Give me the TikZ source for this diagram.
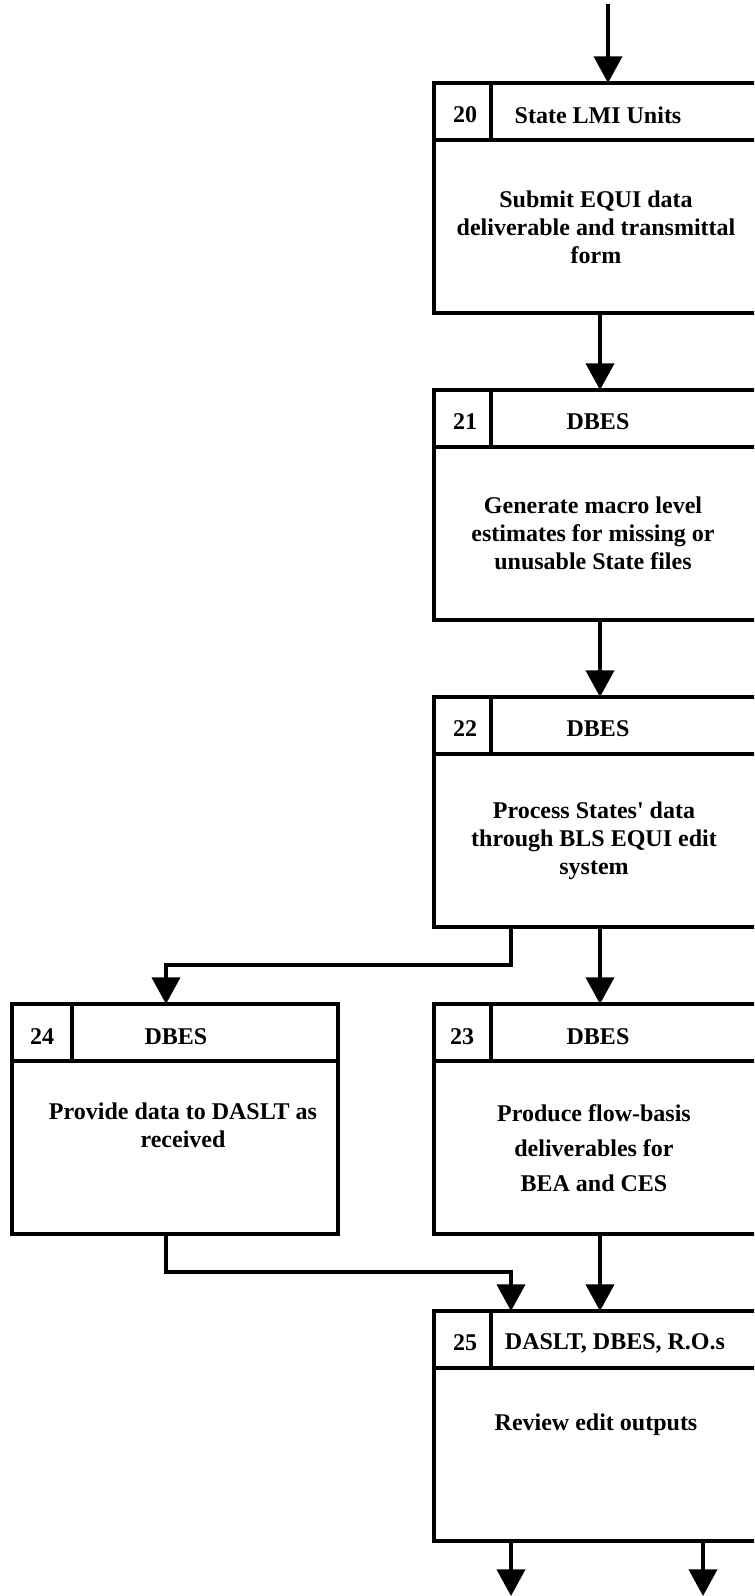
\documentclass[tikz,border=0pt]{standalone}
\usepackage{fontspec}
\setmainfont{Liberation Serif}[Ligatures=TeXOff]
\usetikzlibrary{arrows.meta}

\begin{document}
\begin{tikzpicture}[x=0.75pt,y=-0.75pt,
  stepbox/.style={draw=black,line width=3pt,rectangle,outer sep=0pt,inner sep=0pt,minimum width=249pt,minimum height=172.5pt},
  wide/.style={minimum width=244.5pt},
  rule/.style={draw=black,line width=3pt},
  label/.style={font=\bfseries\fontsize{18}{21}\selectfont,align=center,inner sep=0pt},
  flow/.style={draw=black,line width=3pt,-{Triangle[width=21pt,length=20pt]}}]

\useasboundingbox (0,0) rectangle (754,1596);
\clip (0,0) rectangle (754,1596);

\node[stepbox] (b20) at (600,198)  {};
\node[stepbox] (b21) at (600,505)  {};
\node[stepbox] (b22) at (600,812)  {};
\node[stepbox,wide] (b24) at (175,1119) {};
\node[stepbox] (b23) at (600,1119) {};
\node[stepbox] (b25) at (600,1426) {};

\draw[rule] (b20.north west) ++(0,57) -- ++(340,0);
\draw[rule] (b20.north west) ++(57,0) -- ++(0,57);
\draw[rule] (b21.north west) ++(0,57) -- ++(340,0);
\draw[rule] (b21.north west) ++(57,0) -- ++(0,57);
\draw[rule] (b22.north west) ++(0,57) -- ++(340,0);
\draw[rule] (b22.north west) ++(57,0) -- ++(0,57);
\draw[rule] (b24.north west) ++(0,57) -- (b24.north east |- 0,1061);
\draw[rule] (b24.north west) ++(60,0) -- ++(0,57);
\draw[rule] (b23.north west) ++(0,57) -- ++(340,0);
\draw[rule] (b23.north west) ++(57,0) -- ++(0,57);
\draw[rule] (b25.north west) ++(0,57) -- ++(340,0);
\draw[rule] (b25.north west) ++(57,0) -- ++(0,57);

\node[label] (n20) at (465,115)  {20};
\node[label] (t20) at (598,115)  {State LMI Units};
\node[label] (d20) at (596,227)  {Submit EQUI data\\deliverable and transmittal\\form};

\node[label] (n21) at (465,422)  {21};
\node[label] (t21) at (598,422)  {DBES};
\node[label] (d21) at (593,533)  {Generate macro level\\estimates for missing or\\unusable State files};

\node[label] (n22) at (465,729)  {22};
\node[label] (t22) at (598,729)  {DBES};
\node[label] (d22) at (594,841)  {Process States' data\\through BLS EQUI edit\\system};

\node[label] (n24) at (42,1037)  {24};
\node[label] (t24) at (176,1037) {DBES};
\node[label] (d24) at (183,1125) {Provide data to DASLT as\\received};

\node[label] (n23) at (462,1037) {23};
\node[label] (t23) at (598,1037) {DBES};
\node[label,font=\bfseries\fontsize{18}{26}\selectfont] (d23) at (594,1148) {Produce flow-basis\\deliverables for\\BEA and CES};

\node[label] (n25) at (465,1343) {25};
\node[label] (t25) at (615,1343) {DASLT, DBES, R.O.s};
\node[label] (d25) at (596,1425) {Review edit outputs};

\coordinate (in) at (608,4);
\coordinate (br) at (511,965);
\coordinate (s24) at (166,965);
\coordinate (j24) at (166,1272);
\coordinate (j25) at (511,1272);
\coordinate (o1) at (511,1596);
\coordinate (o2) at (703,1596);

\draw[flow] (in) -- (in |- b20.north);
\draw[flow] (b20.south) -- (b21.north);
\draw[flow] (b21.south) -- (b22.north);
\draw[flow] (b22.south) -- (b23.north);
\draw[flow] (br |- b22.south) -- (br) -- (s24) -- (s24 |- b24.north);
\draw[flow] (j24 |- b24.south) -- (j24) -- (j25) -- (j25 |- b25.north);
\draw[flow] (b23.south) -- (b25.north);
\draw[flow] (o1 |- b25.south) -- (o1);
\draw[flow] (o2 |- b25.south) -- (o2);

\end{tikzpicture}
\end{document}
